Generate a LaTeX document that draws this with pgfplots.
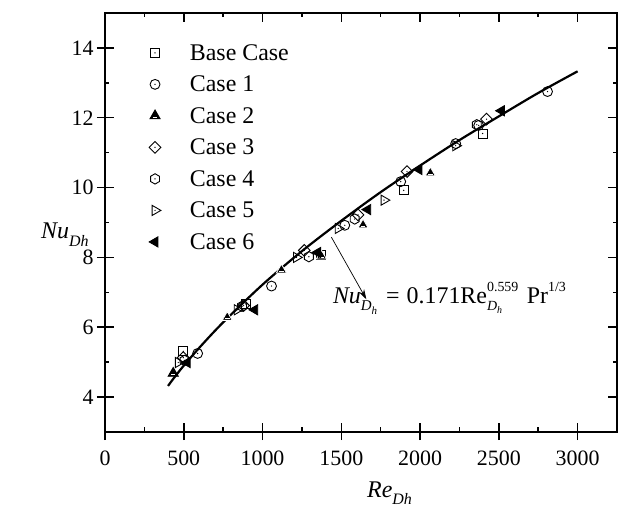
\documentclass[border=0pt]{standalone}
\usepackage{pgfplots}
\pgfplotsset{compat=1.18}
\usetikzlibrary{arrows.meta}
\usepackage{fontspec}
\setmainfont{Liberation Serif}

% open marks with a centre dot, as in the original plotting style
\pgfdeclareplotmark{sqdot}{%
  \pgfpathrectangle{\pgfpoint{-\pgfplotmarksize}{-\pgfplotmarksize}}{\pgfpoint{2\pgfplotmarksize}{2\pgfplotmarksize}}%
  \pgfusepathqstroke
  \pgfpathcircle{\pgfpointorigin}{0.7bp}\pgfusepathqfill}
\pgfdeclareplotmark{ocdot}{%
  \pgfpathcircle{\pgfpointorigin}{1.1\pgfplotmarksize}%
  \pgfusepathqstroke
  \pgfpathcircle{\pgfpointorigin}{0.7bp}\pgfusepathqfill}
\pgfdeclareplotmark{diadot}{%
  \pgfpathmoveto{\pgfpoint{0pt}{1.3\pgfplotmarksize}}%
  \pgfpathlineto{\pgfpoint{1.3\pgfplotmarksize}{0pt}}%
  \pgfpathlineto{\pgfpoint{0pt}{-1.3\pgfplotmarksize}}%
  \pgfpathlineto{\pgfpoint{-1.3\pgfplotmarksize}{0pt}}%
  \pgfpathclose\pgfusepathqstroke
  \pgfpathcircle{\pgfpointorigin}{0.7bp}\pgfusepathqfill}
\pgfdeclareplotmark{hexdot}{%
  \pgfpathmoveto{\pgfpointpolar{90}{1.15\pgfplotmarksize}}%
  \pgfpathlineto{\pgfpointpolar{150}{1.15\pgfplotmarksize}}%
  \pgfpathlineto{\pgfpointpolar{210}{1.15\pgfplotmarksize}}%
  \pgfpathlineto{\pgfpointpolar{270}{1.15\pgfplotmarksize}}%
  \pgfpathlineto{\pgfpointpolar{330}{1.15\pgfplotmarksize}}%
  \pgfpathlineto{\pgfpointpolar{30}{1.15\pgfplotmarksize}}%
  \pgfpathclose\pgfusepathqstroke
  \pgfpathcircle{\pgfpointorigin}{0.7bp}\pgfusepathqfill}
\pgfdeclareplotmark{uptri}{%
  \pgfpathmoveto{\pgfpointpolar{90}{1.3\pgfplotmarksize}}%
  \pgfpathlineto{\pgfpointpolar{210}{1.3\pgfplotmarksize}}%
  \pgfpathlineto{\pgfpointpolar{330}{1.3\pgfplotmarksize}}%
  \pgfpathclose\pgfusepathqfillstroke
  \pgfsetstrokecolor{white}\pgfsetlinewidth{0.8bp}%
  \pgfpathmoveto{\pgfpoint{-0.5\pgfplotmarksize}{-0.3\pgfplotmarksize}}%
  \pgfpathlineto{\pgfpoint{0.5\pgfplotmarksize}{-0.3\pgfplotmarksize}}%
  \pgfusepathqstroke}
\pgfdeclareplotmark{rtridot}{%
  \pgfpathmoveto{\pgfpointpolar{0}{1.3\pgfplotmarksize}}%
  \pgfpathlineto{\pgfpointpolar{120}{1.3\pgfplotmarksize}}%
  \pgfpathlineto{\pgfpointpolar{240}{1.3\pgfplotmarksize}}%
  \pgfpathclose\pgfusepathqstroke
  \pgfpathcircle{\pgfpointorigin}{0.7bp}\pgfusepathqfill}
\pgfdeclareplotmark{ltri}{%
  \pgfpathmoveto{\pgfpointpolar{180}{1.3\pgfplotmarksize}}%
  \pgfpathlineto{\pgfpointpolar{300}{1.3\pgfplotmarksize}}%
  \pgfpathlineto{\pgfpointpolar{60}{1.3\pgfplotmarksize}}%
  \pgfpathclose\pgfusepathqfillstroke}

\newcommand{\sub}[1]{\raisebox{-0.3em}{\fontsize{16}{16}\selectfont\itshape #1}}

\begin{document}
\begin{tikzpicture}
% canvas extent
\path (-105bp,-78bp) rectangle (535bp,432bp);

\begin{axis}[
  at={(0,0)}, anchor=south west,
  scale only axis, width=512bp, height=419bp,
  xmin=0, xmax=3250, ymin=3, ymax=15,
  xtick={0,500,...,3000}, ytick={4,6,...,14},
  minor x tick num=1, minor y tick num=1,
  tick align=inside,
  major tick length=9bp, minor tick length=4.5bp,
  every tick/.style={black, line width=1.5bp},
  axis line style={line width=1.6bp},
  /pgf/number format/1000 sep={},
  /pgf/number format/assume math mode=true,
  tick label style={font=\fontsize{22}{26}\selectfont},
  xticklabel style={yshift=-15bp},
  yticklabel style={xshift=-8bp},
  clip=false,
  legend cell align=left,
  legend style={at={(rel axis cs:0,1)}, anchor=north west,
    xshift=44bp, yshift=-29bp, draw=none, fill=none, inner sep=0pt,
    font=\fontsize{24}{28}\selectfont, row sep=10.2bp,
    /tikz/every odd column/.append style={column sep=27bp}},
  legend image code/.code={\draw[mark repeat=2,mark phase=2,#1]
      plot coordinates {(0bp,0bp) (10bp,0bp) (20bp,0bp)};},
  mark size=4.5bp,
  every axis plot/.append style={line width=0.9bp},
]

\addplot[only marks, mark=sqdot] coordinates {
  (497,5.31) (895,6.66) (1372,8.07) (1896,9.92) (2397,11.55)};
\addlegendentry{Base Case}

\addplot[only marks, mark=ocdot] coordinates {
  (588,5.25) (1057,7.18) (1522,8.92) (1877,10.17) (2226,11.26)
  (2372,11.78) (2809,12.75)};
\addlegendentry{Case 1}

\addplot[only marks, mark=uptri] coordinates {
  (433,4.68) (776,6.28) (1120,7.64) (1374,8.04) (1638,8.93) (2065,10.42)};
\addlegendentry{Case 2}

\addplot[only marks, mark=diadot] coordinates {
  (497,5.13) (880,6.62) (1265,8.20) (1606,9.22) (1917,10.46) (2422,11.96)};
\addlegendentry{Case 3}

\addplot[only marks, mark=hexdot] coordinates {
  (505,5.05) (870,6.60) (1294,8.02) (1585,9.10) (2360,11.80)};
\addlegendentry{Case 4}

\addplot[only marks, mark=rtridot] coordinates {
  (465,4.99) (839,6.50) (1215,8.00) (1480,8.83) (1771,9.64) (2226,11.20)};
\addlegendentry{Case 5}

\addplot[only marks, mark=ltri] coordinates {
  (522,4.99) (951,6.50) (1350,8.14) (1668,9.37) (1993,10.52) (2517,12.20)};
\addlegendentry{Case 6}

% correlation Nu = 0.171 Re^0.559 Pr^(1/3), Pr = 0.7
\addplot[black, line width=2.2bp, smooth, no marks, forget plot] coordinates {
  (400,4.32) (450,4.62) (500,4.90) (600,5.42) (750,6.14) (1000,7.22)
  (1250,8.18) (1500,9.05) (1750,9.87) (2000,10.63) (2250,11.36)
  (2500,12.04) (2750,12.71) (3000,13.33)};

\draw[line width=0.7bp, -{Stealth[length=10bp,width=6bp]}]
  (axis cs:1437,8.58) -- (axis cs:1659,6.80);

\node[anchor=base west, inner sep=0pt, font=\fontsize{24}{28}\selectfont]
  at (axis cs:1446,6.69)
  {\textit{Nu}\raisebox{-0.3em}{\fontsize{15}{15}\selectfont\itshape D\raisebox{-0.25em}{\fontsize{11}{11}\selectfont h}}\hspace{0.12em}
   =\hspace{0.05em} 0.171Re\rlap{\raisebox{-0.3em}{\fontsize{14}{14}\selectfont\itshape D\raisebox{-0.25em}{\fontsize{10}{10}\selectfont h}}}\raisebox{0.5em}{\fontsize{14}{14}\selectfont 0.559}\hspace{0.35em}Pr\raisebox{0.5em}{\fontsize{14}{14}\selectfont 1/3}};

\end{axis}

% outward halves of the major ticks on the bottom and left sides
\begin{axis}[
  at={(0,0)}, anchor=south west,
  scale only axis, width=512bp, height=419bp,
  xmin=0, xmax=3250, ymin=3, ymax=15,
  xtick={0,500,...,3000}, ytick={4,6,...,14},
  xticklabels={}, yticklabels={},
  xtick pos=left, ytick pos=left,
  tick align=outside, major tick length=8bp,
  every tick/.style={black, line width=1.5bp},
  axis line style={draw=none},
]
\end{axis}

% axis titles
\node[anchor=base west, inner sep=0pt, font=\fontsize{24}{28}\selectfont]
  at (262bp,-65bp) {\textit{Re}\sub{Dh}};
\node[anchor=base west, inner sep=0pt, font=\fontsize{24}{28}\selectfont]
  at (-64bp,193bp) {\textit{Nu}\sub{Dh}};
\end{tikzpicture}
\end{document}
